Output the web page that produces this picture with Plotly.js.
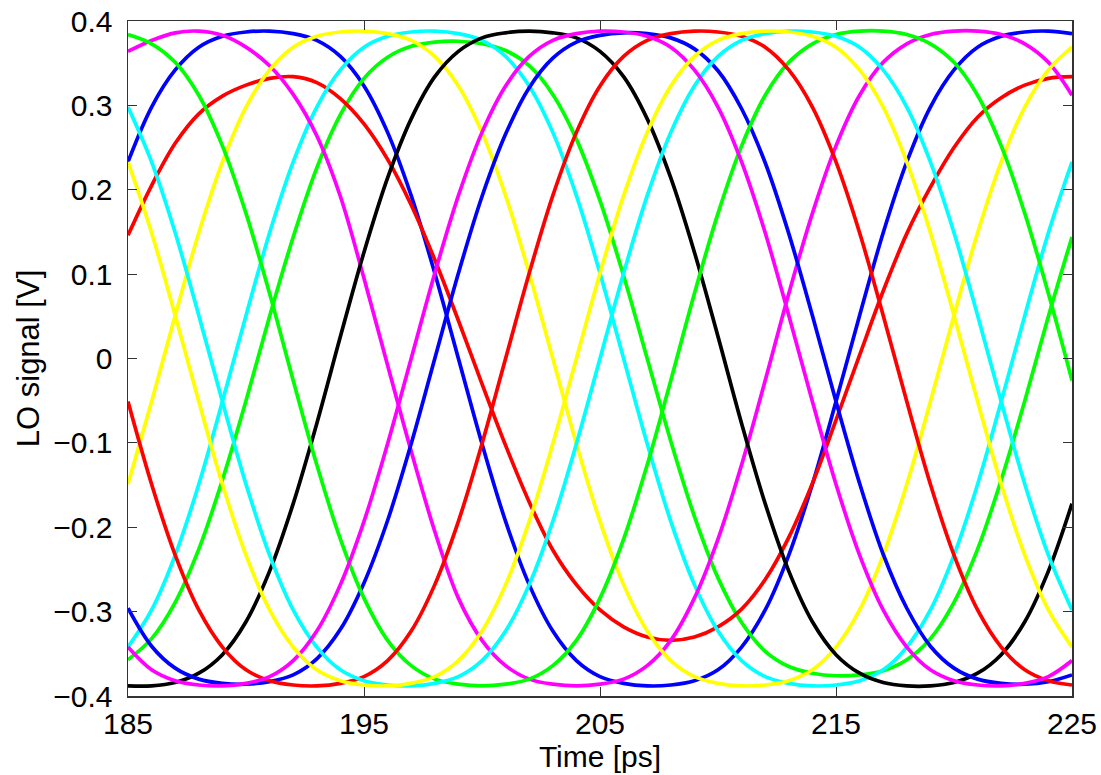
<!DOCTYPE html>
<html>
<head>
<meta charset="utf-8">
<script src="https://cdn.plot.ly/plotly-3.0.1.min.js"></script>
<style>html,body{margin:0;padding:0;background:#fff;}#chart{width:1101px;height:775px;}</style>
</head>
<body>
<div id="chart"></div>
<script>
// Time axis (ps)
var time = [185,186,187,188,189,190,191,192,193,194,195,196,197,198,199,200,201,202,203,204,205,206,207,208,209,210,211,212,213,214,215,216,217,218,219,220,221,222,223,224,225];
var xTicks = [185,195,205,215,225];

// LO phases (V)
var blue1 = [0.233,0.298,0.342,0.369,0.382,0.387,0.388,0.385,0.377,0.358,0.323,0.268,0.193,0.101,0.000,-0.101,-0.193,-0.268,-0.323,-0.358,-0.377,-0.385,-0.388,-0.387,-0.382,-0.369,-0.342,-0.298,-0.233,-0.149,-0.051,0.051,0.149,0.233,0.298,0.342,0.369,0.382,0.387,0.388,0.385];
var green1 = [-0.357,-0.332,-0.289,-0.226,-0.144,-0.050,0.050,0.144,0.226,0.289,0.332,0.357,0.370,0.375,0.376,0.373,0.365,0.347,0.313,0.260,0.187,0.098,0.000,-0.098,-0.187,-0.260,-0.313,-0.347,-0.365,-0.373,-0.376,-0.375,-0.370,-0.357,-0.332,-0.289,-0.226,-0.144,-0.050,0.050,0.144];
var red1 = [0.146,0.205,0.255,0.290,0.311,0.324,0.332,0.334,0.327,0.308,0.278,0.236,0.182,0.117,0.045,-0.030,-0.103,-0.170,-0.227,-0.268,-0.298,-0.318,-0.330,-0.334,-0.330,-0.318,-0.297,-0.262,-0.212,-0.148,-0.073,0.004,0.080,0.148,0.203,0.250,0.286,0.309,0.324,0.332,0.334];
var cyan1 = [-0.342,-0.298,-0.233,-0.149,-0.051,0.051,0.149,0.233,0.298,0.342,0.369,0.382,0.387,0.388,0.385,0.377,0.358,0.323,0.268,0.193,0.101,0.000,-0.101,-0.193,-0.268,-0.323,-0.358,-0.377,-0.385,-0.388,-0.387,-0.382,-0.369,-0.342,-0.298,-0.233,-0.149,-0.051,0.051,0.149,0.233];
var magenta1 = [0.364,0.377,0.386,0.388,0.383,0.369,0.347,0.313,0.264,0.192,0.095,-0.008,-0.110,-0.205,-0.284,-0.334,-0.364,-0.380,-0.386,-0.388,-0.386,-0.380,-0.364,-0.334,-0.284,-0.214,-0.126,-0.026,0.077,0.172,0.252,0.312,0.351,0.373,0.384,0.388,0.388,0.384,0.373,0.351,0.312];
var yellow1 = [-0.149,-0.051,0.051,0.149,0.233,0.298,0.342,0.369,0.382,0.387,0.388,0.385,0.377,0.358,0.323,0.268,0.193,0.101,0.000,-0.101,-0.193,-0.268,-0.323,-0.358,-0.377,-0.385,-0.388,-0.387,-0.382,-0.369,-0.342,-0.298,-0.233,-0.149,-0.051,0.051,0.149,0.233,0.298,0.342,0.369];
var black1 = [-0.388,-0.388,-0.384,-0.373,-0.351,-0.312,-0.252,-0.172,-0.077,0.026,0.126,0.214,0.284,0.334,0.364,0.380,0.386,0.388,0.386,0.380,0.364,0.334,0.284,0.214,0.126,0.026,-0.077,-0.172,-0.252,-0.312,-0.351,-0.373,-0.384,-0.388,-0.388,-0.384,-0.373,-0.351,-0.312,-0.252,-0.172];
var blue2 = [-0.296,-0.341,-0.367,-0.380,-0.385,-0.386,-0.383,-0.375,-0.356,-0.321,-0.266,-0.192,-0.101,0.000,0.101,0.192,0.266,0.321,0.356,0.375,0.383,0.386,0.385,0.380,0.367,0.341,0.296,0.232,0.148,0.051,-0.051,-0.148,-0.232,-0.296,-0.341,-0.367,-0.380,-0.385,-0.386,-0.383,-0.375];
var green2 = [0.384,0.373,0.351,0.312,0.252,0.172,0.077,-0.026,-0.126,-0.214,-0.284,-0.334,-0.364,-0.380,-0.386,-0.388,-0.386,-0.380,-0.364,-0.334,-0.284,-0.214,-0.126,-0.026,0.077,0.172,0.252,0.312,0.351,0.373,0.384,0.388,0.388,0.384,0.373,0.351,0.312,0.252,0.172,0.077,-0.026];
var red2 = [-0.051,-0.149,-0.233,-0.298,-0.342,-0.369,-0.382,-0.387,-0.388,-0.385,-0.377,-0.358,-0.323,-0.268,-0.193,-0.101,0.000,0.101,0.193,0.268,0.323,0.358,0.377,0.385,0.388,0.387,0.382,0.369,0.342,0.298,0.233,0.149,0.051,-0.051,-0.149,-0.233,-0.298,-0.342,-0.369,-0.382,-0.387];
var cyan2 = [0.298,0.233,0.149,0.051,-0.051,-0.149,-0.233,-0.298,-0.342,-0.369,-0.382,-0.387,-0.388,-0.385,-0.377,-0.358,-0.323,-0.268,-0.193,-0.101,0.000,0.101,0.193,0.268,0.323,0.358,0.377,0.385,0.388,0.387,0.382,0.369,0.342,0.298,0.233,0.149,0.051,-0.051,-0.149,-0.233,-0.298];
var magenta2 = [-0.342,-0.369,-0.382,-0.387,-0.388,-0.385,-0.377,-0.358,-0.323,-0.268,-0.193,-0.101,0.000,0.101,0.193,0.268,0.323,0.358,0.377,0.385,0.388,0.387,0.382,0.369,0.342,0.298,0.233,0.149,0.051,-0.051,-0.149,-0.233,-0.298,-0.342,-0.369,-0.382,-0.387,-0.388,-0.385,-0.377,-0.358];
var yellow2 = [0.233,0.149,0.051,-0.051,-0.149,-0.233,-0.298,-0.342,-0.369,-0.382,-0.387,-0.388,-0.385,-0.377,-0.358,-0.323,-0.268,-0.193,-0.101,0.000,0.101,0.193,0.268,0.323,0.358,0.377,0.385,0.388,0.387,0.382,0.369,0.342,0.298,0.233,0.149,0.051,-0.051,-0.149,-0.233,-0.298,-0.342];

var seriesList = [blue1, green1, red1, cyan1, magenta1, yellow1, black1, blue2, green2, red2, cyan2, magenta2, yellow2];
var seriesNames = ['blue1','green1','red1','cyan1','magenta1','yellow1','black1','blue2','green2','red2','cyan2','magenta2','yellow2'];
var colorOrder = ['#0000ff','#00ff00','#ff0000','#00ffff','#ff00ff','#ffff00','#000000'];

var traces = seriesList.map(function(v, i){
  return {
    x: time, y: v, type: 'scatter', mode: 'lines', name: seriesNames[i],
    line: {color: colorOrder[i % 7], width: 3.7, shape: 'spline'},
    hoverinfo: 'skip'
  };
});

var FONT = 'Liberation Sans, Arial, Helvetica, sans-serif';
var layout = {
  width: 1101, height: 775,
  margin: {l: 128, r: 29, t: 21, b: 79, pad: 0},
  paper_bgcolor: '#ffffff', plot_bgcolor: '#ffffff',
  showlegend: false,
  font: {family: FONT, color: '#000', size: 30},
  xaxis: {
    range: [185, 225], tickvals: xTicks, ticktext: xTicks.map(String),
    ticks: 'inside', ticklen: 9, tickwidth: 1, tickcolor: '#333',
    showline: true, linecolor: '#333', linewidth: 1.5, mirror: 'ticks',
    showgrid: false, zeroline: false,
    tickfont: {family: FONT, size: 30, color: '#000'},
    ticklabelstandoff: 0,
    title: {text: 'Time [ps]', font: {family: FONT, size: 30, color: '#000'}, standoff: 0}
  },
  yaxis: {
    range: [-0.4, 0.4], tick0: 0, dtick: 0.1,
    ticks: 'inside', ticklen: 9, tickwidth: 1, tickcolor: '#333',
    showline: true, linecolor: '#333', linewidth: 1.5, mirror: 'ticks',
    showgrid: false, zeroline: false,
    tickfont: {family: FONT, size: 30, color: '#000'},
    ticklabelstandoff: 8,
    title: {text: 'LO signal [V]', font: {family: FONT, size: 31, color: '#000'}, standoff: 4}
  }
};

Plotly.newPlot('chart', traces, layout, {staticPlot: true, displayModeBar: false});
</script>
</body>
</html>
